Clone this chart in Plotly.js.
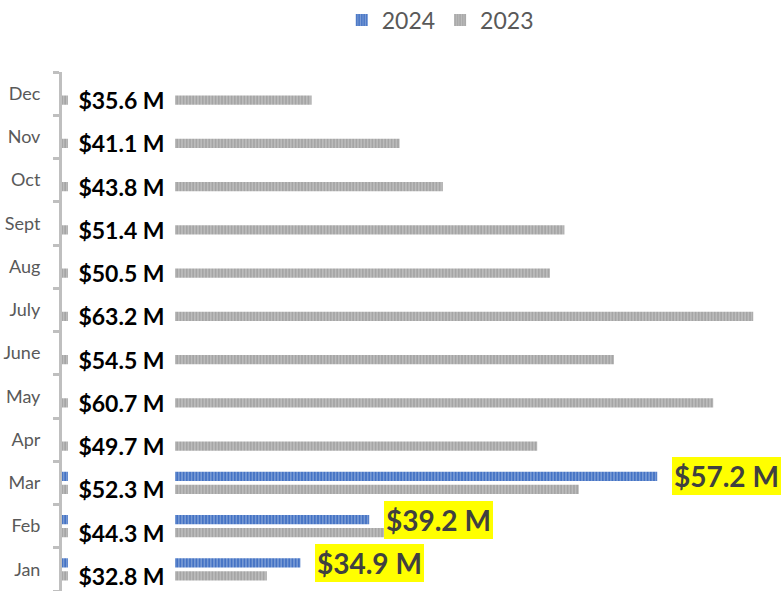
<!DOCTYPE html>
<html>
<head>
<meta charset="utf-8">
<script src="https://cdn.plot.ly/plotly-3.0.1.min.js"></script>
<style>
html,body{margin:0;padding:0;background:#fff;overflow:hidden;}
#chart{width:782px;height:591px;}
</style>
</head>
<body>
<div id="chart"></div>
<script>
const months = ['Jan','Feb','Mar','Apr','May','June','July','Aug','Sept','Oct','Nov','Dec'];
const sales2023 = [32.8, 44.3, 52.3, 49.7, 60.7, 54.5, 63.2, 50.5, 51.4, 43.8, 41.1, 35.6];
const sales2024 = [34.9, 39.2, 57.2, null, null, null, null, null, null, null, null, null];
const seriesNames = ['2024', '2023'];

const fmt = v => '$' + v.toFixed(1) + ' M';

const trace2023 = {
  type: 'bar', orientation: 'h', name: seriesNames[1], legendrank: 2,
  y: months, x: sales2023,
  marker: {
    color: '#a5a5a5',
    line: {width: 0},
    pattern: {shape: '|', fillmode: 'overlay', fgcolor: '#d6d6d6', size: 3.2, solidity: 0.45}
  },
  hoverinfo: 'skip'
};
const trace2024 = {
  type: 'bar', orientation: 'h', name: seriesNames[0], legendrank: 1,
  y: months, x: sales2024,
  marker: {
    color: '#4472c4',
    line: {width: 0},
    pattern: {shape: '|', fillmode: 'overlay', fgcolor: '#b4c7e7', size: 3.2, solidity: 0.45}
  },
  hoverinfo: 'skip'
};

const annotations = [];
months.forEach((m, i) => {
  annotations.push({
    xref: 'paper', x: 0, yref: 'y', y: m,
    xanchor: 'left', yanchor: 'middle', xshift: 6, yshift: -6.5,
    text: fmt(sales2023[i]), showarrow: false,
    width: 103, height: 34, align: 'center', valign: 'middle',
    bgcolor: '#ffffff', borderpad: 2, borderwidth: 0,
    font: {family: 'Lato, "Open Sans", sans-serif', size: 23, color: '#000000', weight: 'bold'}
  });
  if (sales2024[i] !== null) {
    annotations.push({
      xref: 'x', x: sales2024[i], yref: 'y', y: m,
      xanchor: 'left', yanchor: 'middle', xshift: 15, yshift: 6.5,
      text: fmt(sales2024[i]), showarrow: false,
      bgcolor: '#ffff00', borderpad: 2, borderwidth: 0,
      font: {family: 'Lato, "Open Sans", sans-serif', size: 28, color: '#404040', weight: 'bold'}
    });
  }
});

const layout = {
  width: 782, height: 591,
  margin: {l: 62, r: 0, t: 72, b: 0, pad: 0},
  paper_bgcolor: '#ffffff', plot_bgcolor: '#ffffff',
  barmode: 'group', bargap: 0.4, bargroupgap: 0.27,
  font: {family: 'Lato, "Open Sans", sans-serif', color: '#595959'},
  showlegend: true,
  legend: {
    orientation: 'h', xref: 'container', yref: 'container',
    x: 0.437, xanchor: 'left', y: 0.966, yanchor: 'middle',
    font: {size: 23, color: '#595959'}, bgcolor: 'rgba(0,0,0,0)'
  },
  xaxis: {range: [20, 65], visible: false, fixedrange: true},
  yaxis: {
    type: 'category', categoryorder: 'array', categoryarray: months,
    range: [-0.5, 11.5],
    showline: true, linecolor: '#bfbfbf', linewidth: 3,
    ticks: 'outside', tickson: 'boundaries', ticklen: 6, tickwidth: 3, tickcolor: '#bfbfbf',
    ticklabelstandoff: 15,
    showgrid: false, zeroline: false,
    tickfont: {size: 18, color: '#595959'},
    fixedrange: true
  },
  annotations: annotations
};

Plotly.newPlot('chart', [trace2023, trace2024], layout, {staticPlot: true, displayModeBar: false});
</script>
</body>
</html>
